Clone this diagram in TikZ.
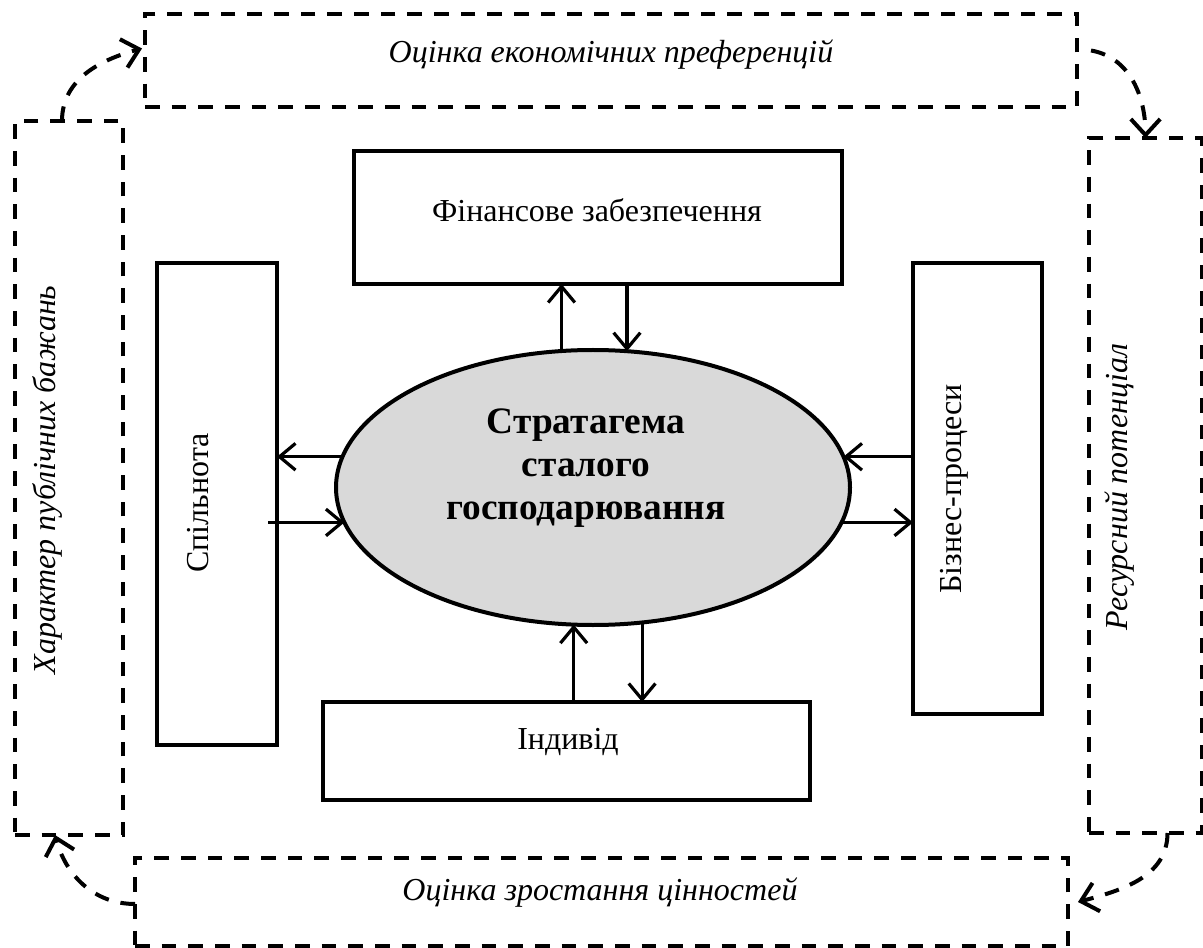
\documentclass[tikz,border=0pt]{standalone}
\usepackage{fontspec}
\setmainfont{Liberation Serif}
\usetikzlibrary{positioning,shapes.geometric,arrows.meta,calc}

\tikzset{
  solidbox/.style={draw, rectangle, line width=3pt, inner sep=0pt, outer sep=0pt},
  dashbox/.style={draw, rectangle, line width=3pt, dash pattern=on 11pt off 9pt, inner sep=0pt, outer sep=0pt},
  link/.style={line width=2.4pt, -{Straight Barb[length=12pt,width=20pt]}},
  flow/.style={line width=3pt, dash pattern=on 11pt off 9pt, -{Straight Barb[length=12pt,width=22pt]}},
  txt/.style={inner sep=0pt, font=\fontsize{24}{28}\selectfont},
  itxt/.style={inner sep=0pt, font=\fontsize{24}{28}\selectfont\itshape},
  btxt/.style={inner sep=0pt, align=center, font=\fontsize{28}{32.25}\selectfont\bfseries},
}

\begin{document}
\begin{tikzpicture}[x=0.75pt,y=0.75pt,yscale=-1,xscale=1]
\useasboundingbox (0,0) rectangle (1203,948);

%Shape: dashed frames
\node[dashbox, minimum width=699pt, minimum height=69.75pt] (ocek) at (611,60.5) {};
\node[dashbox, minimum width=699.75pt, minimum height=66pt] (ocval) at (601.5,902) {};
\node[dashbox, minimum width=81pt, minimum height=535.5pt] (khar) at (69,478) {};
\node[dashbox, minimum width=84.75pt, minimum height=521.25pt] (resurs) at (1145.5,485.5) {};

%Shape: Rectangle
\node[solidbox, minimum width=366pt, minimum height=99.75pt] (fin) at (598,217.5) {};
\node[solidbox, minimum width=90pt, minimum height=361.5pt] (spil) at (217,504) {};
\node[solidbox, minimum width=96.75pt, minimum height=338.25pt] (biz) at (977.5,488.5) {};
\node[solidbox, minimum width=365.25pt, minimum height=73.5pt] (indyv) at (566.5,751) {};

%Shape: Ellipse
\node[ellipse, draw, line width=3pt, fill={rgb,255:red,217;green,217;blue,217}, inner sep=0pt, outer sep=0pt,
  minimum width=385.5pt, minimum height=206.25pt] (strat) at (593,487.5) {};

%Straight Lines
\draw[link] (strat.103) -- (strat.103 |- fin.south);
\draw[link] (strat.76 |- fin.south) -- (strat.76);
\draw[link] (strat.173) -- (strat.173 -| spil.east);
\draw[link] ($(strat.188 -| spil.east)+(-9,0)$) -- (strat.188);
\draw[link] (strat.7 -| biz.west) -- (strat.7);
\draw[link] (strat.352) -- (strat.352 -| biz.west);
\draw[link] (strat.262 |- indyv.north) -- (strat.262);
\draw[link] (strat.290) -- (strat.290 |- indyv.north);

%Curves
\draw[flow] ($(khar.north)+(-7,0)$) to[out=-90, in=165] ($(ocek.west)+(-3,-12)$);
\draw[flow] ($(ocek.east)+(14,-10)$) to[out=10, in=-90] (resurs.north);
\draw[flow] ($(resurs.south)+(22,0)$) to[out=90, in=-15] ($(ocval.east)+(10,0)$);
\draw[flow] ($(ocval.west)+(0,2)$) to[out=180, in=75] ($(khar.south)+(-14,0)$);

% Text Node
\node[itxt] (ocektxt) at (611,55) {Оцінка економічних преференцій};
\node[itxt] (ocvaltxt) at (600,893) {Оцінка зростання цінностей};
\node[itxt, rotate=90] (khartxt) at (47,480) {Характер публічних бажань};
\node[itxt, rotate=90] (resurstxt) at (1120,487) {Ресурсний потенціал};
\node[txt] (fintxt) at (597,210) {Фінансове забезпечення};
\node[txt] (indyvtxt) at (568,742) {Індивід};
\node[txt, rotate=90] (spiltxt) at (198,503) {Спільнота};
\node[txt, rotate=90] (biztxt) at (954,489) {Бізнес-процеси};
\node[btxt] (strattxt) at (586,468) {Стратагема\\сталого\\господарювання};
\end{tikzpicture}
\end{document}
